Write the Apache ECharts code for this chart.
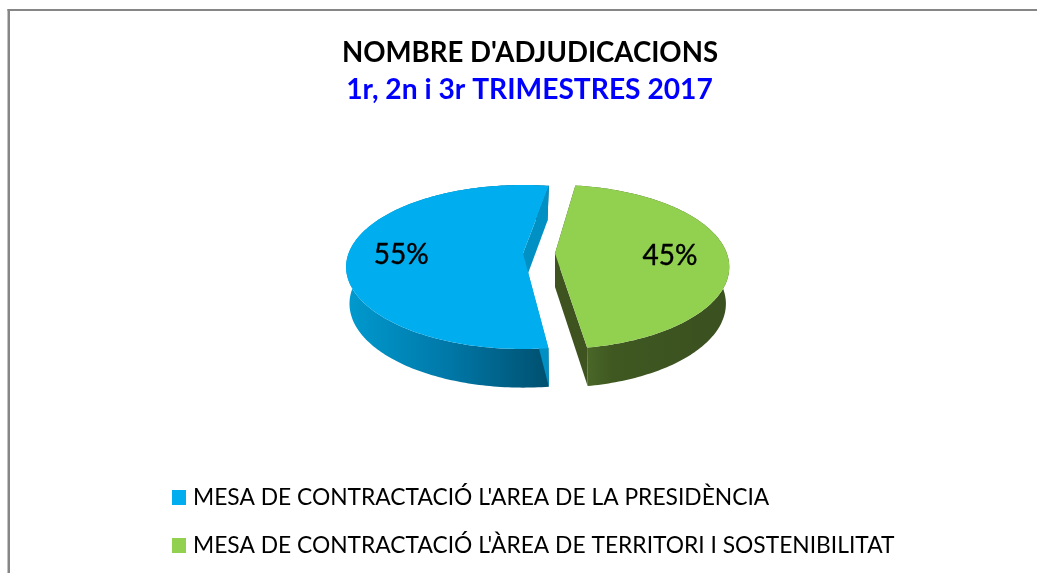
<!DOCTYPE html>
<html><head><meta charset="utf-8">
<style>html,body{margin:0;padding:0;background:#fff}#c{width:1037px;height:573px}</style>
<script src="https://cdn.jsdelivr.net/npm/echarts@6/dist/echarts.min.js"></script>
</head><body><div id="c"></div>
<script>
const categories = ["MESA DE CONTRACTACIÓ L'AREA DE LA PRESIDÈNCIA", "MESA DE CONTRACTACIÓ L'ÀREA DE TERRITORI I SOSTENIBILITAT"];
const values = [54.7, 45.3];
const titleText = "NOMBRE D'ADJUDICACIONS";
const subtitleText = "1r, 2n i 3r TRIMESTRES 2017";

const colors = ['#00AEEF', '#92D050'];
const innerWall = ['#0090C4', '#3F5321'];
const outerWall = [
  [[0, '#009ACF'], [0.5, '#0078A8'], [1, '#00506F']],
  [[0, '#4F6E2B'], [0.25, '#3F5821'], [1, '#3A5020']]
];
// 3D projection of the disc (perspective homography), per slice explosion and spin
const startAngle = 173;
const apexX = [523, 555];
const spin = [0, -2];
const discScale = [1, 0.985];
const labelR = [0.70, 0.67];
const labelDy = 3;
const topDisc = {y: 253.5, A: 174.5, a: 79.8, b: 0.1646};
const botDisc = {y: 287, A: 170, a: 80.5, b: 0.2};

function project(d, ax, deg, r, sx) {
  const t = deg * Math.PI / 180;
  const u = r * Math.sin(t), v = r * Math.cos(t), w = 1 + d.b * v;
  return [ax + sx * d.A * u / w, d.y - d.a * v / w];
}
function arc(d, ax, from, to, sx) {
  const pts = [], n = Math.ceil(Math.abs(to - from));
  for (let i = 0; i <= n; i++) pts.push(project(d, ax, from + (to - from) * i / n, 1, sx));
  return pts;
}
const total = values.reduce((s, v) => s + v, 0);

function renderSlice(params, api) {
  const i = params.seriesIndex;
  const val = api.value(0);
  let before = 0;
  for (let k = 0; k < i; k++) before += values[k];
  const from = startAngle + before / total * 360 + spin[i];
  const to = from + val / total * 360;
  const ax = apexX[i], sx = discScale[i];
  const topArc = arc(topDisc, ax, from, to, sx);
  const botArc = arc(botDisc, ax, from, to, sx);
  const aT = [ax, topDisc.y], aB = [ax, botDisc.y];
  const mid = (from + to) / 2;
  const lp = project(topDisc, ax, mid, labelR[i], sx);
  const poly = (points, fill) => ({type: 'polygon', shape: {points}, style: {fill, stroke: null}});
  return {
    type: 'group',
    children: [
      poly(topArc.concat(botArc.slice().reverse()),
        new echarts.graphic.LinearGradient(0, 0, 1, 0, outerWall[i].map(s => ({offset: s[0], color: s[1]})))),
      poly([aT, topArc[0], botArc[0], aB], innerWall[i]),
      poly([aT, topArc[topArc.length - 1], botArc[botArc.length - 1], aB], innerWall[i]),
      poly([aT].concat(topArc), colors[i]),
      {type: 'text', style: {text: Math.round(val / total * 100) + '%', x: lp[0], y: lp[1] + labelDy,
        fill: '#000', stroke: '#000', lineWidth: 0.4, align: 'center', verticalAlign: 'middle',
        font: '28px Lato, "Open Sans", sans-serif'}}
    ]
  };
}

const legendTextStyle = {fontFamily: 'Lato', fontSize: 22.8, color: '#000', padding: [0, 0, 0, 2]};
const legendTops = [486, 534];

const chart = echarts.init(document.getElementById('c'), null, {renderer: 'canvas'});
chart.setOption({
  animation: false,
  backgroundColor: '#fff',
  title: [
    {text: titleText, left: 525, textAlign: 'center', top: 34,
      textStyle: {fontFamily: 'Lato', fontWeight: 'bold', fontSize: 27.6, color: '#000'}},
    {text: subtitleText, left: 524.5, textAlign: 'center', top: 71,
      textStyle: {fontFamily: 'Lato', fontWeight: 'bold', fontSize: 28.2, color: '#0000FF'}}
  ],
  legend: categories.map((name, i) => ({
    orient: 'vertical', left: 172, top: legendTops[i], padding: 0, itemWidth: 14, itemHeight: 15,
    icon: 'rect', selectedMode: false, data: [name], textStyle: legendTextStyle
  })),
  graphic: [
    {type: 'rect', shape: {x: 7.5, y: 9, width: 2.5, height: 564}, style: {fill: '#868686'}},
    {type: 'rect', shape: {x: 7.5, y: 9, width: 1030, height: 2}, style: {fill: '#868686'}}
  ],
  series: categories.map((name, i) => ({
    type: 'custom', name, coordinateSystem: 'none', silent: true,
    itemStyle: {color: colors[i]},
    data: [[values[i]]],
    renderItem: renderSlice
  }))
});
</script></body></html>
